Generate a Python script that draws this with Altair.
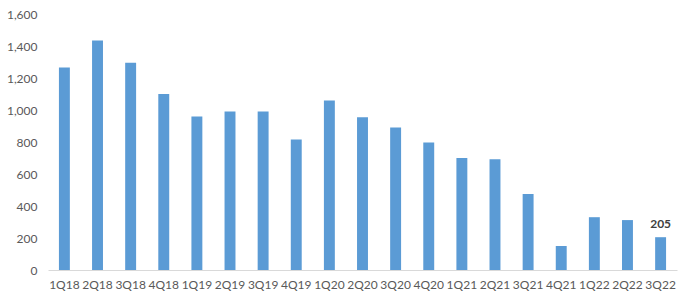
import altair as alt
import pandas as pd

quarters = ["1Q18", "2Q18", "3Q18", "4Q18", "1Q19", "2Q19", "3Q19", "4Q19", "1Q20",
            "2Q20", "3Q20", "4Q20", "1Q21", "2Q21", "3Q21", "4Q21", "1Q22", "2Q22", "3Q22"]
values = [1265, 1435, 1295, 1100, 960, 990, 990, 815, 1060,
          955, 890, 797, 700, 692, 475, 150, 330, 312, 205]
label_flags = [False] * 18 + [True]

df = pd.DataFrame({"q": quarters, "v": values, "show": label_flags})

FONT = "Lato"
GRAY = "#595959"

x = alt.X("q:N", sort=quarters, title=None,
          scale=alt.Scale(paddingInner=0.67, paddingOuter=0.33),
          axis=alt.Axis(labelAngle=0, ticks=False, domainColor="#d9d9d9", domainWidth=1,
                        labelFont=FONT, labelFontSize=12, labelColor=GRAY, labelPadding=9,
                        labelOverlap=False, grid=False))
y = alt.Y("v:Q", title=None,
          scale=alt.Scale(domain=[0, 1600], nice=False),
          axis=alt.Axis(values=list(range(0, 1601, 200)), format=",.0f", grid=False, domain=False,
                        ticks=False, labelFont=FONT, labelFontSize=12, labelColor=GRAY,
                        labelPadding=11, labelOverlap=False))

bars = alt.Chart(df).mark_bar(color="#5B9BD5").encode(x=x, y=y)
labels = alt.Chart(df).transform_filter("datum.show").mark_text(
    baseline="bottom", dy=-6, font=FONT, fontSize=12, fontWeight="bold", color="#404040"
).encode(x=x, y=y, text=alt.Text("v:Q"))

chart = (bars + labels).properties(
    width=629, height=256,
    background="white",
    autosize=alt.AutoSizeParams(type="none"),
    padding={"left": 48, "top": 14, "right": 14, "bottom": 32},
).configure_view(stroke=None)

chart.save("out.html", embed_options={"renderer": "svg", "actions": False})
